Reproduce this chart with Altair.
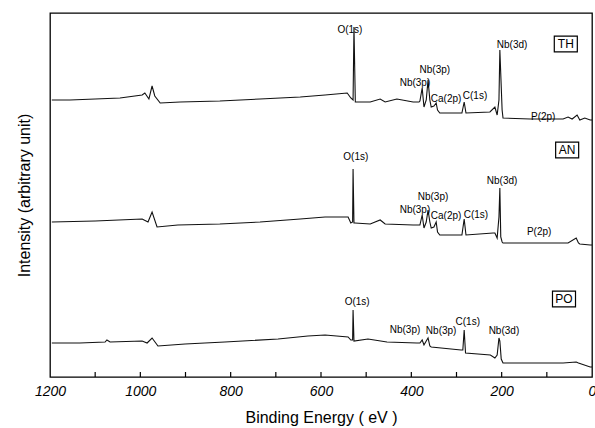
import altair as alt
import pandas as pd

# ---- spectra (binding energy in eV, intensity in arbitrary units) ----
th_e = [1196, 1156, 1100, 1045, 996, 990, 981, 974, 968, 956, 912, 824, 735, 646, 591, 542, 534, 529, 527, 524,
        491, 469, 458, 432, 396, 383, 381, 376, 372, 367, 363, 359, 356, 350, 345, 342, 337, 288, 283, 279,
        226, 215, 210, 206, 204, 199, 197, 137, 64, 53, 44, 33, 27, 16, 4, 0]
th_i = [277, 277, 278, 279, 282, 284, 278, 291, 281, 274, 275, 276, 278, 280, 282, 284, 279, 277, 350, 275,
        275, 278, 275, 278, 275, 275, 276, 289, 270, 277, 297, 277, 270, 271, 274, 267, 264, 264, 275, 264,
        265, 270, 262, 277, 327, 267, 259, 258, 258, 260, 258, 262, 257, 259, 257, 257]

an_e = [1196, 1100, 996, 983, 974, 963, 917, 824, 735, 646, 591, 540, 534, 530, 529, 527, 525,
        491, 469, 458, 396, 383, 381, 376, 372, 367, 363, 359, 356, 350, 345, 342, 337, 288, 283, 279,
        219, 215, 210, 206, 204, 202, 199, 197, 137, 64, 53, 35, 30, 27, 4, 0]
an_i = [155, 156, 158, 155, 165, 150, 152, 153, 155, 158, 160, 160, 154, 155, 208, 154, 154,
        153, 157, 153, 152, 152, 152, 162, 149, 155, 167, 155, 149, 150, 155, 145, 142, 142, 158, 142,
        144, 144, 139, 160, 189, 140, 135, 134, 134, 134, 134, 139, 134, 133, 132, 132]

po_e = [1196, 1134, 1078, 1074, 1067, 996, 985, 974, 961, 901, 813, 695, 629, 591, 540, 534, 530, 529, 527,
        496, 454, 388, 381, 376, 372, 367, 363, 359, 356, 290, 286, 283, 280, 225, 215, 210, 206, 204, 201,
        197, 137, 64, 35, 30, 4, 0]
po_i = [34, 34, 35, 37, 35, 36, 34, 39, 31, 33, 35, 38, 41, 42, 40, 37, 37, 67, 36,
        38, 35, 34, 34, 37, 32, 36, 39, 31, 30, 27, 27, 47, 24, 22, 19, 22, 39, 36, 18,
        14, 14, 14, 15, 14, 10, 10]

# ---- peak annotations ----
lab_text = ["O(1s)", "Nb(3d)", "Nb(3p)", "Nb(3p)", "Ca(2p)", "C(1s)", "P(2p)",
            "O(1s)", "Nb(3d)", "Nb(3p)", "Nb(3p)", "Ca(2p)", "C(1s)", "P(2p)",
            "O(1s)", "Nb(3p)", "Nb(3p)", "C(1s)", "Nb(3d)"]
lab_e = [536, 177, 348, 392, 323, 259, 108,
         523, 199, 352, 392, 323, 257, 117,
         520, 414, 334, 275, 195]
lab_i = [347, 332, 307, 294, 278, 281, 260,
         220, 196, 180, 167, 161, 162, 145,
         75, 47, 46, 55, 46]

# ---- sample tags ----
tag_text = ["TH", "AN", "PO"]
tag_e = [58, 55, 62]
tag_i = [333, 227, 78]

tick_e = [1100, 1000, 900, 800, 700, 600, 500, 400, 300, 200, 100]
x_labels = [1200, 1000, 800, 600, 400, 200, 0]

spec = pd.concat([
    pd.DataFrame({"e": th_e, "i": th_i, "s": "TH"}),
    pd.DataFrame({"e": an_e, "i": an_i, "s": "AN"}),
    pd.DataFrame({"e": po_e, "i": po_i, "s": "PO"}),
])
labs = pd.DataFrame({"t": lab_text, "e": lab_e, "i": lab_i})
tags = pd.DataFrame({"t": tag_text, "e": tag_e, "i": tag_i})
ticks = pd.DataFrame({"e": tick_e})

FONT = "Liberation Sans"
xs = alt.Scale(domain=[0, 1200], reverse=True, nice=False, zero=False)
ys = alt.Scale(domain=[0, 364], nice=False, zero=False)

xaxis = alt.Axis(values=x_labels, format="d", ticks=False, grid=False, domain=False,
                 labelFlush=False, labelOverlap=False,
                 labelFontStyle="italic", labelFontSize=14, labelFont=FONT, labelColor="black",
                 labelPadding=7, title="Binding Energy ( eV )", titleFont=FONT, titleFontSize=16,
                 titleFontWeight="normal", titleColor="black", titlePadding=11)
yaxis = alt.Axis(labels=False, ticks=False, grid=False, domain=False,
                 title="Intensity (arbitrary unit)", titleFont=FONT, titleFontSize=16,
                 titleFontWeight="normal", titleColor="black", titlePadding=18)

lines = alt.Chart(spec).mark_line(color="#111111", strokeWidth=1.1, interpolate="linear").encode(
    x=alt.X("e:Q", scale=xs, axis=xaxis),
    y=alt.Y("i:Q", scale=ys, axis=yaxis),
    detail="s:N",
    order=alt.Order("e:Q", sort="descending"),
)

tickmarks = alt.Chart(ticks).mark_rule(color="black", strokeWidth=1.2).encode(
    x=alt.X("e:Q", scale=xs),
    y=alt.value(364),
    y2=alt.value(359),
)

texts = alt.Chart(labs).mark_text(font=FONT, fontSize=10, color="black", baseline="middle", align="center").encode(
    x=alt.X("e:Q", scale=xs),
    y=alt.Y("i:Q", scale=ys),
    text="t:N",
)

boxes = alt.Chart(tags).mark_point(
    shape="M-1,-0.68L1,-0.68L1,0.68L-1,0.68Z", size=530, filled=False,
    stroke="black", strokeWidth=1.2, opacity=1,
).encode(
    x=alt.X("e:Q", scale=xs),
    y=alt.Y("i:Q", scale=ys),
)

tagtext = alt.Chart(tags).mark_text(font=FONT, fontSize=12, color="black", baseline="middle", align="center").encode(
    x=alt.X("e:Q", scale=xs),
    y=alt.Y("i:Q", scale=ys),
    text="t:N",
)

chart = alt.layer(lines, tickmarks, texts, boxes, tagtext).properties(
    width=542, height=364,
    autosize=alt.AutoSizeParams(type="none"),
    padding={"left": 50, "top": 13, "right": 3, "bottom": 51},
    background="white",
).configure_view(stroke="black", strokeWidth=1.3)

chart.save("out.html", embed_options={"renderer": "svg", "actions": False})
